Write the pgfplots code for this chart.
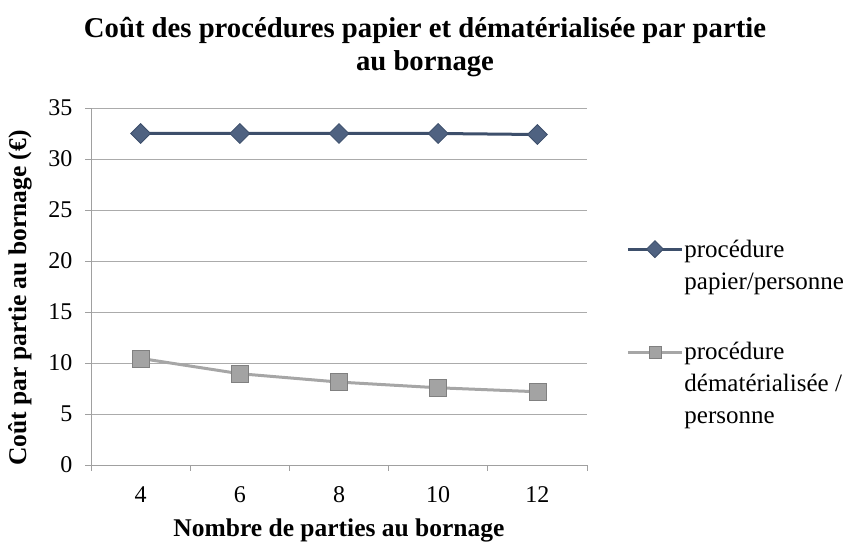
\documentclass[border=0pt]{standalone}
\usepackage{fontspec}
\setmainfont{Liberation Serif}
\usepackage{pgfplots}
\pgfplotsset{compat=1.18}
\definecolor{darkser}{HTML}{3D4F6B}
\definecolor{darkmark}{HTML}{4F6281}
\definecolor{grayser}{HTML}{A6A6A6}
\definecolor{graymark}{HTML}{A3A3A3}
\definecolor{graymarkedge}{HTML}{808080}
\definecolor{axgray}{HTML}{A0A0A0}
\definecolor{gridgray}{HTML}{ABABAB}
\newcommand{\lt}[1]{\raisebox{0pt}[\height][0pt]{\parbox[t]{175pt}{#1}}}
\begin{document}
\begin{tikzpicture}[x=1pt,y=1pt]
\path[use as bounding box] (0,0) rectangle (853,545);
\node[font=\fontsize{28.7}{33}\selectfont\bfseries, align=center, anchor=north, inner sep=0pt] at (425,528) {Coût des procédures papier et dématérialisée par partie\\au bornage};
\begin{axis}[
  at={(91pt,80pt)}, anchor=south west,
  scale only axis, width=496pt, height=357pt,
  xmin=-0.5, xmax=4.5, ymin=0, ymax=35,
  ytick={0,5,...,35},
  xtick={0,...,4}, xticklabels={4,6,8,10,12},
  minor xtick={-0.5,0.5,...,4.5},
  xtick style={draw=none},
  minor x tick style={draw=axgray, thick},
  ytick style={draw=axgray, thick},
  tick align=outside, major tick length=6pt, minor tick length=6pt,
  axis x line*=bottom, axis y line*=left,
  axis line style={draw=axgray, thick},
  ymajorgrids, grid style={draw=gridgray, thick},
  ticklabel style={font=\fontsize{24}{28}\selectfont},
  xticklabel style={yshift=-12pt},
  yticklabel style={xshift=-9pt},
  /pgf/number format/assume math mode=true,
  xlabel={\bfseries Nombre de parties au bornage},
  ylabel={\bfseries Coût par partie au bornage (€)},
  label style={font=\fontsize{25.5}{30}\selectfont},
  xlabel style={at={(axis description cs:0.5,-0.182)}, anchor=center},
  ylabel style={at={(axis description cs:-0.143,0.468)}, anchor=center},
  legend style={at={(1.073,0.64)}, anchor=north west, draw=none, fill=none,
    nodes={font=\fontsize{25}{32}\selectfont, inner sep=1pt}, row sep=82pt, column sep=0pt},
  legend cell align=left,
  legend image code/.code={\draw[mark repeat=2,mark phase=2,#1] plot coordinates {(0pt,0pt) (27pt,0pt) (54pt,0pt)};},
]
\addplot[darkser, line width=3pt, mark=square*, mark size=7pt,
  mark options={rotate=45, fill=darkmark, draw=darkser, line width=0.8pt}, forget plot]
  coordinates {(0,32.5) (1,32.5) (2,32.5) (3,32.5) (4,32.4)};
\addplot[grayser, line width=3pt, mark=square*, mark size=8.5pt,
  mark options={fill=graymark, draw=graymarkedge, line width=0.8pt}, forget plot]
  coordinates {(0,10.45) (1,8.95) (2,8.13) (3,7.57) (4,7.18)};
\addlegendimage{darkser, line width=3pt, mark=square*, mark size=6pt,
  mark options={rotate=45, fill=darkmark, draw=darkser, line width=0.8pt}}
\addlegendentry{\lt{procédure\\papier/personne}}
\addlegendimage{grayser, line width=3pt, mark=square*, mark size=6pt,
  mark options={fill=graymark, draw=graymarkedge, line width=0.8pt}}
\addlegendentry{\lt{procédure\\dématérialisée /\\personne}}
\end{axis}
\end{tikzpicture}
\end{document}
